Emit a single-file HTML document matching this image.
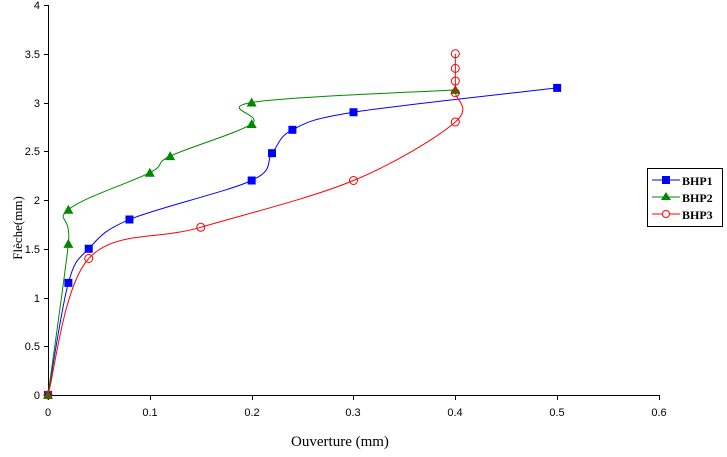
<!DOCTYPE html>
<html><head><meta charset="utf-8"><style>
html,body{margin:0;padding:0;background:#fff;}
svg text{font-family:"Liberation Sans",sans-serif;}
</style></head><body>
<svg id="s" width="727" height="452" xmlns="http://www.w3.org/2000/svg">
<g font-size="11" fill="#000" text-anchor="end">
<text x="40" y="399">0</text><text x="40" y="350">0.5</text><text x="40" y="302">1</text>
<text x="40" y="253">1.5</text><text x="40" y="204">2</text><text x="40" y="155">2.5</text>
<text x="40" y="107">3</text><text x="40" y="58">3.5</text><text x="40" y="9">4</text>
</g>
<g font-size="11" text-anchor="middle">
<text x="48" y="416">0</text><text x="150" y="416">0.1</text><text x="252" y="416">0.2</text>
<text x="353" y="416">0.3</text><text x="455" y="416">0.4</text><text x="557" y="416">0.5</text><text x="659" y="416">0.6</text>
</g>
<text x="340" y="446" font-size="15" text-anchor="middle" style="font-family:'Liberation Serif',serif">Ouverture (mm)</text>
<text transform="translate(22,228) rotate(-90)" font-size="13" text-anchor="middle" style="font-family:'Liberation Serif',serif">Flèche(mm)</text>
<g id="ax" stroke="#000" stroke-width="1"></g>
<g id="cv"></g>
<rect x="647.5" y="168.5" width="75" height="58" fill="#fff" stroke="#000"/>
<line x1="652" y1="180" x2="680" y2="180" stroke="#00f"/><rect x="662" y="176" width="8" height="8" fill="#00f"/>
<text x="682" y="185" font-size="12" font-weight="bold" style="font-family:'Liberation Serif',serif">BHP1</text>
<line x1="652" y1="197" x2="680" y2="197" stroke="#080"/><polygon points="666,192 671,200 661,200" fill="#080"/>
<text x="682" y="202" font-size="12" font-weight="bold" style="font-family:'Liberation Serif',serif">BHP2</text>
<line x1="652" y1="214" x2="680" y2="214" stroke="#f00"/><circle cx="666" cy="214" r="3.5" fill="#fff" stroke="#f00"/>
<text x="682" y="219" font-size="12" font-weight="bold" style="font-family:'Liberation Serif',serif">BHP3</text>
</svg>
<script>
var NS="http://www.w3.org/2000/svg";
function X(v){return 48+v*1018.3}function Y(v){return 395-v*97.5}
function el(p,t,a){var e=document.createElementNS(NS,t);for(var k in a)e.setAttribute(k,a[k]);p.appendChild(e);return e}
var ax=document.getElementById('ax');
el(ax,'line',{x1:48.5,y1:5,x2:48.5,y2:395.5});el(ax,'line',{x1:48,y1:395.5,x2:659,y2:395.5});
for(var i=0;i<=8;i++){var y=Math.round(Y(i*0.5))+0.5;el(ax,'line',{x1:44,y1:y,x2:48,y2:y});}
for(var i=0;i<=6;i++){var x=Math.round(X(i*0.1))+0.5;el(ax,'line',{x1:x,y1:395,x2:x,y2:400});}
var S=[
{c:'#00f',m:'s',p:[[0,0],[0.02,1.15],[0.04,1.5],[0.08,1.8],[0.2,2.2],[0.22,2.48],[0.24,2.72],[0.3,2.9],[0.5,3.15]]},
{c:'#080',m:'t',p:[[0,0],[0.02,1.55],[0.02,1.9],[0.1,2.28],[0.12,2.45],[0.2,2.78],[0.2,3.0],[0.4,3.13]]},
{c:'#f00',m:'o',p:[[0,0],[0.04,1.4],[0.15,1.72],[0.3,2.2],[0.4,2.8],[0.4,3.1],[0.4,3.22],[0.4,3.35],[0.4,3.5]]}];
var cv=document.getElementById('cv');
S.forEach(function(s){
 var P=s.p.map(function(q){return [X(q[0]),Y(q[1])]});
 var d='M'+P[0][0]+','+P[0][1];
 for(var i=0;i<P.length-1;i++){
  var p0=P[i-1]||P[i],p1=P[i],p2=P[i+1],p3=P[i+2]||P[i+1],t=6;
  d+=' C'+(p1[0]+(p2[0]-p0[0])/t)+','+(p1[1]+(p2[1]-p0[1])/t)+' '+(p2[0]-(p3[0]-p1[0])/t)+','+(p2[1]-(p3[1]-p1[1])/t)+' '+p2[0]+','+p2[1];
 }
 el(cv,'path',{d:d,fill:'none',stroke:s.c,'stroke-width':1});
 P.forEach(function(p){
  if(s.m=='s')el(cv,'rect',{x:p[0]-4,y:p[1]-4,width:8,height:8,fill:s.c});
  else if(s.m=='t')el(cv,'polygon',{points:p[0]+','+(p[1]-5)+' '+(p[0]+5)+','+(p[1]+4)+' '+(p[0]-5)+','+(p[1]+4),fill:s.c});
  else el(cv,'circle',{cx:p[0],cy:p[1],r:4,fill:'none',stroke:s.c});
 });
});
</script>
</body></html>
